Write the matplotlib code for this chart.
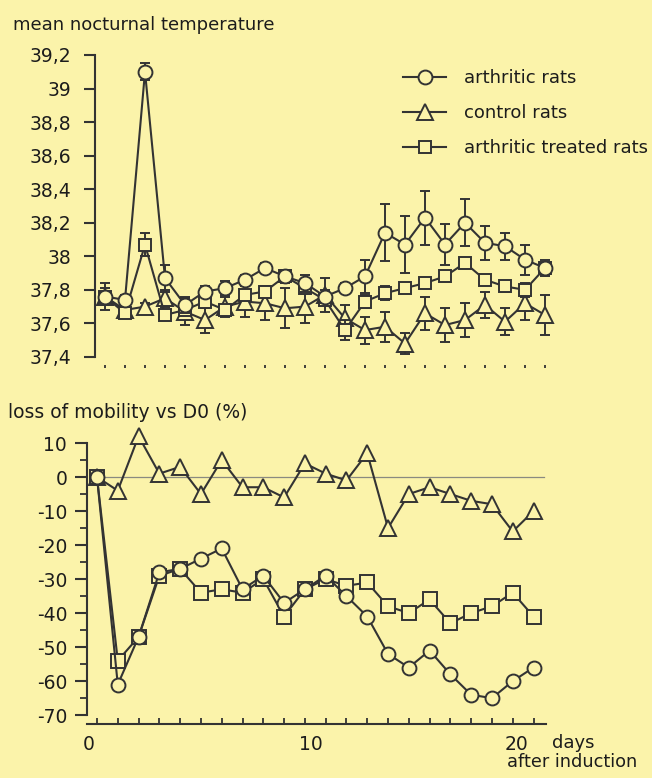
import numpy as np
import matplotlib.pyplot as plt
import matplotlib.transforms as mtransforms
from matplotlib.lines import Line2D
from matplotlib.ticker import FixedLocator, MultipleLocator

# ---- dados ----
dias_temp = list(range(0, 23))
temp_artrite = [37.76, 37.74, 39.10, 37.87, 37.71, 37.79, 37.81, 37.86, 37.93, 37.88, 37.84, 37.76,
                37.81, 37.88, 38.14, 38.07, 38.23, 38.07, 38.20, 38.08, 38.06, 37.98, 37.93]
erro_artrite = [0.08, 0.03, 0.05, 0.08, 0.05, 0.03, 0.04, 0.03, 0.03, 0.04, 0.05, 0.04,
                0.03, 0.10, 0.17, 0.17, 0.16, 0.12, 0.14, 0.10, 0.08, 0.09, 0.05]
temp_controle = [37.76, 37.68, 37.70, 37.75, 37.67, 37.62, 37.70, 37.73, 37.72, 37.69, 37.70, 37.77,
                 37.63, 37.56, 37.58, 37.48, 37.66, 37.59, 37.62, 37.71, 37.61, 37.72, 37.65]
erro_controle = [0.05, 0.03, 0.02, 0.05, 0.08, 0.08, 0.06, 0.09, 0.10, 0.12, 0.10, 0.10,
                 0.08, 0.08, 0.09, 0.06, 0.10, 0.10, 0.10, 0.08, 0.08, 0.10, 0.12]
temp_tratado = [37.76, 37.66, 38.07, 37.65, 37.68, 37.73, 37.68, 37.77, 37.79, 37.88, 37.81, 37.74,
                37.56, 37.73, 37.78, 37.81, 37.84, 37.88, 37.96, 37.86, 37.82, 37.80, 37.93]
erro_tratado = [0.03, 0.02, 0.07, 0.02, 0.03, 0.04, 0.03, 0.03, 0.03, 0.03, 0.03, 0.03,
                0.06, 0.04, 0.04, 0.03, 0.03, 0.03, 0.03, 0.03, 0.03, 0.04, 0.03]
ticks_temp = [37.4, 37.6, 37.8, 38.0, 38.2, 38.4, 38.6, 38.8, 39.0, 39.2]
rotulos_temp = ["37,4", "37,6", "37,8", "38", "38,2", "38,4", "38,6", "38,8", "39", "39,2"]

dias_mob = list(range(0, 22))
mob_artrite = [0, -61, -47, -28, -27, -24, -21, -33, -29, -37, -33, -29,
               -35, -41, -52, -56, -51, -58, -64, -65, -60, -56]
mob_controle = [0, -4, 12, 1, 3, -5, 5, -3, -3, -6, 4, 1,
                -1, 7, -15, -5, -3, -5, -7, -8, -16, -10]
mob_tratado = [0, -54, -47, -29, -27, -34, -33, -34, -30, -41, -33, -30,
               -32, -31, -38, -40, -36, -43, -40, -38, -34, -41]

nomes = ["arthritic rats", "control rats", "arthritic treated rats"]

fundo = "#fbf3aa"
cor = "#333333"
cor_txt = "#1c1c1c"
W, H = 652, 778

plt.rcParams["font.family"] = ["DejaVu Sans"]
plt.rcParams["axes.unicode_minus"] = False

fig = plt.figure(figsize=(W / 100, H / 100), dpi=100)
fig.patch.set_facecolor(fundo)


def caixa(esq, topo, dir, base):
    # pixels -> fração da figura
    return [esq / W, 1 - base / H, (dir - esq) / W, (base - topo) / H]


estilo = dict(color=cor, lw=1.5, mfc=fundo, mec=cor, mew=1.4)

# ---- painel de temperatura ----
ax1 = fig.add_axes(caixa(95, 51.6, 565, 368))
ax1.set_facecolor("none")
for serie, erro, mk, ms in [(temp_controle, erro_controle, "^", 11),
                            (temp_tratado, erro_tratado, "s", 9),
                            (temp_artrite, erro_artrite, "o", 10)]:
    ax1.errorbar(dias_temp, serie, yerr=erro, fmt="none", ecolor=cor, elinewidth=1.4,
                 capsize=3.5, capthick=1.4)
    ax1.plot(dias_temp, serie, marker=mk, ms=ms, clip_on=False, **estilo)

ax1.set_xlim(-0.5, 23)
ax1.set_ylim(37.334, 39.22)
ax1.yaxis.set_major_locator(FixedLocator(ticks_temp))
ax1.set_yticklabels(rotulos_temp)
ax1.set_xticks(dias_temp)
ax1.set_xticklabels([])
for s in ["top", "right", "bottom"]:
    ax1.spines[s].set_visible(False)
ax1.spines["left"].set_bounds(37.4, 39.2)
ax1.spines["left"].set_linewidth(1.5)
ax1.spines["left"].set_color(cor)
ax1.tick_params(axis="y", direction="out", length=8, width=1.5, colors=cor,
                labelsize=13.5, pad=9, labelcolor=cor_txt)
ax1.tick_params(axis="x", direction="in", length=2.5, width=1.3, colors=cor)

fig.text(13 / W, 1 - 25 / H, "mean nocturnal temperature", fontsize=13,
         color=cor_txt, va="center", ha="left")

alcas = [Line2D([], [], marker=m, ms=s, **estilo) for m, s in [("o", 10), ("^", 11), ("s", 9)]]
leg = fig.legend(alcas, nomes, loc="upper left", bbox_to_anchor=(403 / W, 1 - 69 / H),
                 frameon=False, fontsize=13, handlelength=2.4, handletextpad=1.0,
                 labelspacing=0.95, borderpad=0, borderaxespad=0)
for t in leg.get_texts():
    t.set_color(cor_txt)

# ---- painel de mobilidade ----
ax2 = fig.add_axes(caixa(86.6, 429.4, 546, 724))
ax2.set_facecolor("none")
ax2.plot([0, 21.5], [0, 0], color="#8a8a80", lw=0.9, zorder=1)
for serie, mk, ms in [(mob_controle, "^", 12), (mob_tratado, "s", 10), (mob_artrite, "o", 10)]:
    ax2.plot(dias_mob, serie, marker=mk, ms=ms, clip_on=False, zorder=2, **estilo)

ax2.set_xlim(-0.5, 21.6)
ax2.set_ylim(-72.6, 14)
ax2.yaxis.set_major_locator(FixedLocator(list(range(-70, 11, 10))))
ax2.yaxis.set_minor_locator(MultipleLocator(5))
ax2.set_xticks([0, 10, 20])
ax2.xaxis.set_minor_locator(MultipleLocator(1))
for s in ["top", "right"]:
    ax2.spines[s].set_visible(False)
ax2.spines["left"].set_bounds(-70, 10)
for s in ["left", "bottom"]:
    ax2.spines[s].set_linewidth(1.5)
    ax2.spines[s].set_color(cor)
ax2.tick_params(axis="y", which="major", direction="out", length=9, width=1.5,
                colors=cor, labelsize=13.5, pad=5, labelcolor=cor_txt)
ax2.tick_params(axis="y", which="minor", direction="out", length=5, width=1.3, colors=cor)
ax2.tick_params(axis="x", which="both", direction="in", length=4, width=1.3,
                colors=cor, labelsize=13.5, pad=8, labelcolor=cor_txt)

# rótulos do eixo x levemente deslocados como no original
for lab, dx in zip(ax2.get_xticklabels(), [-8, 6, 4]):
    lab.set_transform(lab.get_transform() +
                      mtransforms.ScaledTranslation(dx / 100, 0, fig.dpi_scale_trans))

fig.text(8 / W, 1 - 412 / H, "loss of mobility vs D0 (%)", fontsize=13.5,
         color=cor_txt, va="center", ha="left")
fig.text(552 / W, 1 - 743 / H, "days", fontsize=13, color=cor_txt, va="center", ha="left")
fig.text(507 / W, 1 - 762 / H, "after induction", fontsize=12.8, color=cor_txt,
         va="center", ha="left")

fig.savefig("out.png", dpi=100, facecolor=fundo)
